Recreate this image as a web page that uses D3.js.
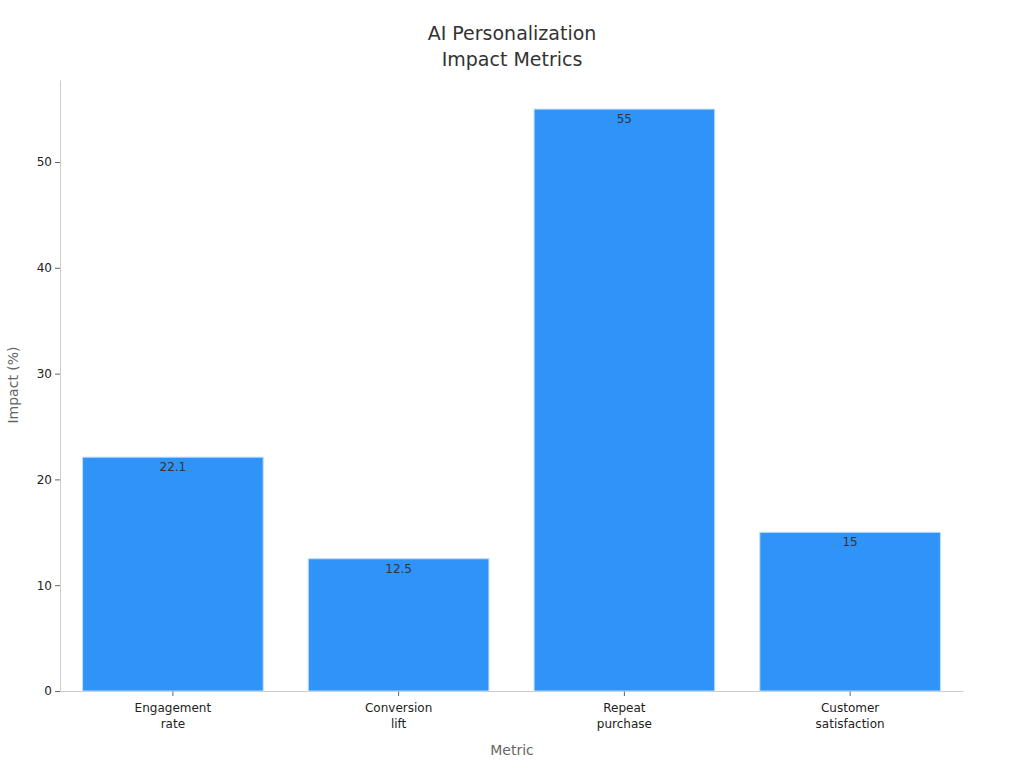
<!DOCTYPE html><html><head><meta charset="utf-8"><script src="https://cdn.jsdelivr.net/npm/d3@7"></script>
<style>body{margin:0;background:#fff;font-family:"DejaVu Sans",sans-serif}</style></head><body><svg id="c" width="1024" height="768"></svg>
<script>
const categories=[["Engagement","rate"],["Conversion","lift"],["Repeat","purchase"],["Customer","satisfaction"]];
const values=[22.1,12.5,55,15];
const yTicks=[0,10,20,30,40,50];
const svg=d3.select("#c");
const m={l:60,r:963,t:80,b:691};
const x=d3.scaleBand().domain(d3.range(4)).range([m.l,m.r]).paddingInner(0.2).paddingOuter(0.1);
const y=d3.scaleLinear().domain([0,55*1.05]).range([m.b,m.t]);
svg.append("text").attr("x",512).attr("y",40).attr("text-anchor","middle").attr("font-size",19).attr("fill","#333").text("AI Personalization");
svg.append("text").attr("x",512).attr("y",66).attr("text-anchor","middle").attr("font-size",19).attr("fill","#333").text("Impact Metrics");
const ya=svg.append("g").attr("transform",`translate(${m.l},0)`).call(d3.axisLeft(y).tickValues(yTicks).tickSize(5).tickSizeOuter(0));
ya.select(".domain").attr("stroke","#ccc");ya.selectAll(".tick line").attr("stroke","#666");
ya.selectAll("text").attr("font-size",12).attr("fill","#222").attr("font-family","DejaVu Sans");
const xa=svg.append("g").attr("transform",`translate(0,${m.b})`).call(d3.axisBottom(x).tickSize(5).tickSizeOuter(0).tickFormat(""));
xa.select(".domain").attr("stroke","#ccc");xa.selectAll(".tick line").attr("stroke","#666");
xa.selectAll(".tick").each(function(d){const t=d3.select(this).append("text").attr("fill","#222").attr("font-size",12).attr("text-anchor","middle").attr("font-family","DejaVu Sans");
categories[d].forEach((s,i)=>t.append("tspan").attr("x",0).attr("y",21+i*16).text(s));});
svg.selectAll("rect.bar").data(values).join("rect").attr("x",(d,i)=>x(i)).attr("width",x.bandwidth()).attr("y",d=>y(d)).attr("height",d=>y(0)-y(d)).attr("fill","#2F93F8").attr("stroke","#bcdcfc").attr("stroke-width",1);
svg.selectAll("text.v").data(values).join("text").attr("x",(d,i)=>x(i)+x.bandwidth()/2).attr("y",d=>y(d)+14).attr("text-anchor","middle").attr("font-size",12).attr("fill","#333").text(d=>d);
svg.append("text").attr("x",512).attr("y",755).attr("text-anchor","middle").attr("font-size",14).attr("fill","#666").text("Metric");
svg.append("text").attr("transform","translate(18,385) rotate(-90)").attr("text-anchor","middle").attr("font-size",14).attr("fill","#666").text("Impact (%)");
</script></body></html>
